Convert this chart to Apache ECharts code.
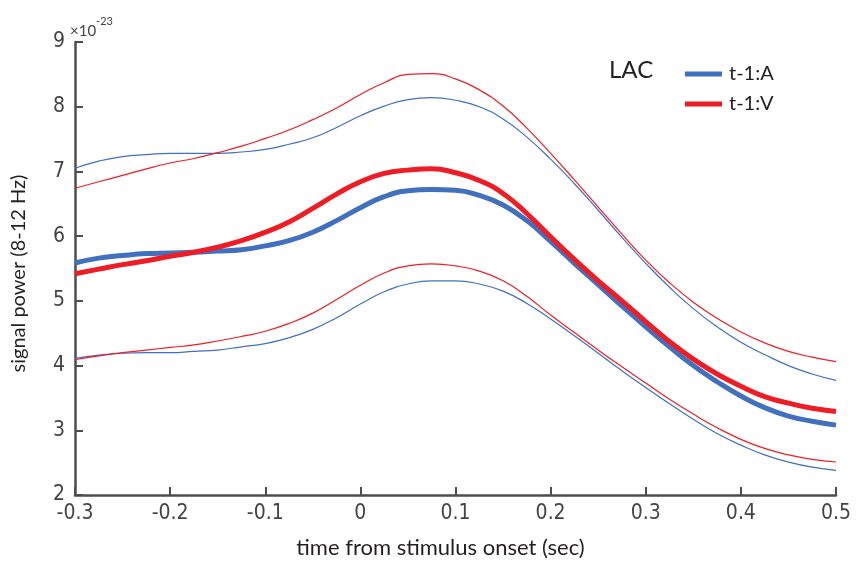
<!DOCTYPE html>
<html>
<head>
<meta charset="utf-8">
<script src="https://cdn.jsdelivr.net/npm/echarts@6/dist/echarts.min.js"></script>
<style>html,body{margin:0;padding:0;background:#fff}#c{width:856px;height:564px}</style>
</head>
<body>
<div id="c"></div>
<script>
var xValues = [-0.3, -0.275, -0.25, -0.225, -0.2, -0.175, -0.15, -0.125, -0.1, -0.075, -0.05, -0.025, 0, 0.025, 0.05, 0.075, 0.1, 0.125, 0.15, 0.175, 0.2, 0.225, 0.25, 0.275, 0.3, 0.325, 0.35, 0.375, 0.4, 0.425, 0.45, 0.475, 0.5];
var meanA  = [5.585, 5.66, 5.70, 5.73, 5.74, 5.75, 5.77, 5.79, 5.85, 5.93, 6.06, 6.24, 6.44, 6.61, 6.70, 6.72, 6.71, 6.63, 6.48, 6.24, 5.92, 5.58, 5.25, 4.92, 4.60, 4.29, 4.00, 3.75, 3.53, 3.35, 3.22, 3.14, 3.08];
var meanV  = [5.42, 5.49, 5.56, 5.62, 5.69, 5.75, 5.83, 5.93, 6.06, 6.22, 6.43, 6.65, 6.84, 6.97, 7.02, 7.04, 6.98, 6.86, 6.66, 6.35, 5.99, 5.64, 5.31, 5.00, 4.68, 4.37, 4.10, 3.87, 3.68, 3.52, 3.42, 3.34, 3.29];
var upperA = [7.05, 7.16, 7.23, 7.26, 7.28, 7.28, 7.28, 7.30, 7.34, 7.42, 7.52, 7.68, 7.86, 8.01, 8.11, 8.14, 8.10, 8.00, 7.81, 7.53, 7.19, 6.81, 6.40, 5.98, 5.58, 5.21, 4.88, 4.60, 4.36, 4.17, 4.00, 3.87, 3.77];
var upperV = [6.74, 6.84, 6.94, 7.04, 7.13, 7.20, 7.29, 7.39, 7.51, 7.64, 7.80, 7.98, 8.19, 8.37, 8.50, 8.51, 8.43, 8.26, 8.01, 7.67, 7.28, 6.87, 6.45, 6.03, 5.63, 5.28, 4.98, 4.73, 4.52, 4.35, 4.22, 4.13, 4.06];
var lowerA = [4.11, 4.16, 4.19, 4.20, 4.20, 4.22, 4.24, 4.29, 4.34, 4.43, 4.56, 4.74, 4.95, 5.14, 5.26, 5.31, 5.31, 5.26, 5.15, 4.96, 4.72, 4.46, 4.19, 3.92, 3.66, 3.41, 3.17, 2.95, 2.77, 2.62, 2.51, 2.43, 2.38];
var lowerV = [4.09, 4.15, 4.20, 4.24, 4.28, 4.32, 4.38, 4.45, 4.53, 4.65, 4.81, 5.02, 5.24, 5.43, 5.54, 5.57, 5.54, 5.46, 5.31, 5.07, 4.78, 4.51, 4.24, 3.98, 3.73, 3.48, 3.25, 3.04, 2.86, 2.72, 2.62, 2.55, 2.51];
var xTicks = {min: -0.3, max: 0.5, step: 0.1};
var yTicks = {min: 2, max: 9, step: 1};
var seriesNames = ['t-1:A', 't-1:V'];
var groupLabel = 'LAC';

function pairs(ys){ return xValues.map(function(x,i){ return [x, ys[i]]; }); }

var BLUE = '#4070BE', RED = '#EE1D25';
var numFont = "'Liberation Sans Narrow', 'DejaVu Sans Condensed', sans-serif";
var txtFont = "Lato, 'Open Sans', sans-serif";

function thin(name, ys, color){
  return {name: name, type: 'line', data: pairs(ys), smooth: 0.5, showSymbol: false,
    lineStyle: {color: color, width: 1.2}, itemStyle: {color: color}, z: 2, silent: true};
}
function thick(name, ys, color){
  return {name: name, type: 'line', data: pairs(ys), smooth: 0.5, showSymbol: false,
    lineStyle: {color: color, width: 5}, itemStyle: {color: color}, z: 3};
}

var chart = echarts.init(document.getElementById('c'), null, {renderer: 'canvas'});
chart.setOption({
  animation: false,
  backgroundColor: '#fff',
  grid: {left: 75, right: 20, top: 42, bottom: 66, containLabel: false},
  legend: {
    data: seriesNames, orient: 'vertical', left: 680, top: 59, itemGap: 10,
    icon: 'rect', itemWidth: 37, itemHeight: 5,
    textStyle: {fontSize: 20, color: '#231f20', fontFamily: txtFont, padding: [0,0,0,2]}
  },
  graphic: [
    {type: 'text', left: 609, top: 58, style: {text: groupLabel, fontSize: 24, fill: '#231f20', fontFamily: txtFont}},
    {type: 'text', left: 70, top: 16, style: {
      text: '{a|×10}{b|-23}', fill: '#444',
      rich: {a: {fontSize: 15, fontFamily: txtFont, fill: '#444', padding: [8,0,0,0]},
             b: {fontSize: 11, fontFamily: txtFont, fill: '#444', verticalAlign: 'top', padding: [0,0,8,0]}}
    }}
  ],
  xAxis: {
    type: 'value', min: xTicks.min, max: xTicks.max, interval: xTicks.step,
    name: 'time from stimulus onset (sec)', nameLocation: 'middle', nameGap: 42,
    nameTextStyle: {fontSize: 22, color: '#231f20', fontFamily: txtFont, padding: [0, 30, 0, 0]},
    splitLine: {show: false},
    axisLine: {onZero: false, lineStyle: {color: '#4d4d4d', width: 2.5}},
    axisTick: {inside: true, length: 8, lineStyle: {color: '#4d4d4d', width: 2}},
    axisLabel: {fontSize: 21, color: '#444', fontFamily: numFont, margin: 8,
      formatter: function(v){ return String(Math.round(v*10)/10); }}
  },
  yAxis: {
    type: 'value', min: yTicks.min, max: yTicks.max, interval: yTicks.step,
    name: 'signal power (8-12 Hz)', nameLocation: 'middle', nameGap: 46,
    nameTextStyle: {fontSize: 20, color: '#231f20', fontFamily: txtFont, padding: [0, 10, 0, 0]},
    splitLine: {show: false},
    axisLine: {show: true, onZero: false, lineStyle: {color: '#4d4d4d', width: 2.5}},
    axisTick: {show: true, inside: true, length: 8, lineStyle: {color: '#4d4d4d', width: 2}},
    axisLabel: {fontSize: 21, color: '#444', fontFamily: numFont, margin: 10}
  },
  series: [
    thin('upperA', upperA, BLUE), thin('lowerA', lowerA, BLUE),
    thin('upperV', upperV, RED), thin('lowerV', lowerV, RED),
    thick(seriesNames[0], meanA, BLUE),
    thick(seriesNames[1], meanV, RED)
  ]
});
</script>
</body>
</html>
